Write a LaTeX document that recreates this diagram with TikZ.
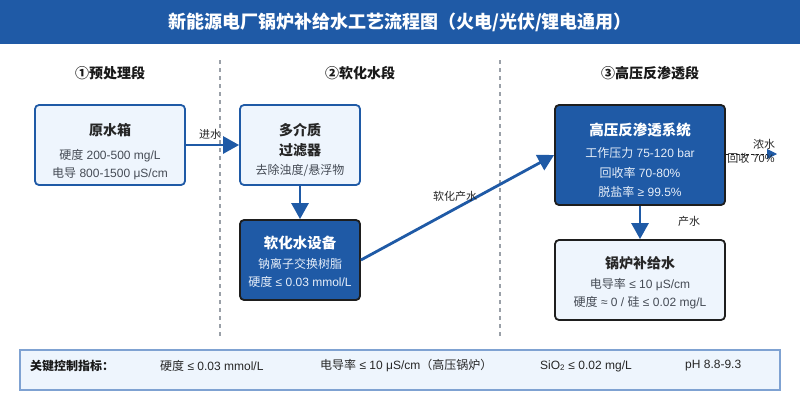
\documentclass[tikz,border=0pt]{standalone}
\usepackage{fontspec}
\setmainfont{Liberation Sans}
\newfontfamily\cjk{Noto Sans CJK SC}
\usetikzlibrary{arrows.meta}
\definecolor{mainblue}{HTML}{1F5AA6}
\definecolor{lightfill}{HTML}{EEF5FD}
\definecolor{darkline}{HTML}{1E1E1E}
\definecolor{sepgrey}{HTML}{9AA0A8}
\definecolor{bodygrey}{HTML}{454B55}
\definecolor{panelline}{HTML}{7FA2D2}
\definecolor{paletext}{HTML}{E6EEF9}
\tikzset{
  x=1pt, y=-1pt,
  lbox/.style={draw=mainblue, line width=1.8pt, fill=lightfill, rounded corners=4pt},
  lboxd/.style={draw=darkline, line width=1.8pt, fill=lightfill, rounded corners=4pt},
  dbox/.style={draw=darkline, line width=1.8pt, fill=mainblue, rounded corners=4pt},
  btitle/.style={font=\fontsize{14}{16}\selectfont\bfseries, text=black!85},
  dtitle/.style={font=\fontsize{14.5}{16}\selectfont\bfseries, text=white},
  btext/.style={font=\fontsize{12}{14}\selectfont, text=bodygrey},
  dtext/.style={font=\fontsize{12}{14}\selectfont, text=paletext},
  stage/.style={font=\fontsize{14}{16}\selectfont\bfseries, text=black!90},
  flow/.style={draw=mainblue, line width=2.8pt, -{Triangle[length=16pt,width=17pt]}},
  lbl/.style={font=\fontsize{11}{13}\selectfont, text=black!85},
  sep/.style={draw=sepgrey, line width=1.5pt, dash pattern=on 4pt off 4pt},
  itm/.style={font=\fontsize{12}{14}\selectfont, text=black!85, anchor=west, inner sep=0pt},
}
\begin{document}
\begin{tikzpicture}
\useasboundingbox (0,0) rectangle (800,400);
\fill[white] (0,0) rectangle (800,400);
% title bar
\fill[mainblue] (0,0) rectangle (800,44);
\node[text=white, font=\fontsize{18}{20}\selectfont\bfseries] (title) at (400,22) {\cjk 新能源电厂锅炉补给水工艺流程图（火电/光伏/锂电通用）};
% stage labels
\node[stage] (s1) at (110,73) {\cjk ①预处理段};
\node[stage] (s2) at (360,73) {\cjk ②软化水段};
\node[stage] (s3) at (650,73) {\cjk ③高压反渗透段};
% separators
\coordinate (sepAt) at (220,60); \coordinate (sepAb) at (220,336);
\coordinate (sepBt) at (500,60); \coordinate (sepBb) at (500,336);
\draw[sep] (sepAt) -- (sepAb);
\draw[sep] (sepBt) -- (sepBb);
% boxes
\node[lbox, minimum width=150pt, minimum height=80pt] (raw) at (110,145) {};
\node[btitle] (rawT) at (110,130) {\cjk 原水箱};
\node[btext] (rawA) at (110,156) {{\cjk 硬度} 200-500 mg/L};
\node[btext] (rawB) at (110,174) {{\cjk 电导} 800-1500 μS/cm};

\node[lbox, minimum width=120pt, minimum height=80pt] (filt) at (300,145) {};
\node[btitle] (filtT1) at (300,130) {\cjk 多介质};
\node[btitle] (filtT2) at (300,150) {\cjk 过滤器};
\node[btext] (filtA) at (300,170) {\cjk 去除浊度/悬浮物};

\node[dbox, minimum width=120pt, minimum height=80pt] (soft) at (300,260) {};
\node[dtitle] (softT) at (300,243) {\cjk 软化水设备};
\node[dtext] (softA) at (300,264) {\cjk 钠离子交换树脂};
\node[dtext] (softB) at (300,282) {{\cjk 硬度} ≤ 0.03 mmol/L};

\node[dbox, minimum width=170pt, minimum height=100pt] (ro) at (640,155) {};
\node[dtitle] (roT) at (640,130) {\cjk 高压反渗透系统};
\node[dtext] (roA) at (640,153) {{\cjk 工作压力} 75-120 bar};
\node[dtext] (roB) at (640,173) {{\cjk 回收率} 70-80\%};
\node[dtext] (roC) at (640,192) {{\cjk 脱盐率} ≥ 99.5\%};

\node[lboxd, minimum width=170pt, minimum height=80pt] (boil) at (640,280) {};
\node[btitle] (boilT) at (640,263) {\cjk 锅炉补给水};
\node[btext] (boilA) at (640,285) {{\cjk 电导率} ≤ 10 μS/cm};
\node[btext] (boilB) at (640,303) {{\cjk 硬度} ≈ 0 / {\cjk 硅} ≤ 0.02 mg/L};

% connectors
\draw[flow] (raw.east) -- (filt.west);
\node[lbl] (l1) at (210,134) {\cjk 进水};
\draw[flow] (filt.south) -- (soft.north);
\draw[flow] (soft.east) -- (ro.west);
\node[lbl] (l2) at (455,196) {\cjk 软化产水};
\draw[flow] (ro.south) -- (boil.north);
\node[lbl] (l3) at (689,221) {\cjk 产水};
\coordinate (outlet) at (777,154);
\draw[draw=darkline, line width=1pt, dash pattern=on 3pt off 2pt, -{Triangle[length=10pt,width=10pt,color=mainblue,fill=mainblue]}] (ro.east |- outlet) -- (outlet);
\node[lbl] (l4) at (764,144) {\cjk 浓水};
\node[lbl] (l5) at (751,158) {{\cjk 回收} 70\%};

% bottom panel
\node[draw=panelline, line width=1.5pt, fill=lightfill, minimum width=760pt, minimum height=40pt] (panel) at (400,370) {};
\node[font=\fontsize{12}{14}\selectfont\bfseries, text=black!90, anchor=west, inner sep=0pt] (pT) at (30,366) {\cjk 关键控制指标：};
\node[itm] (p1) at (160,366) {{\cjk 硬度} ≤ 0.03 mmol/L};
\node[itm] (p2) at (320,366) {{\cjk 电导率} ≤ 10 μS/cm{\cjk （高压锅炉）}};
\node[itm] (p3) at (540,366) {SiO\textsubscript{2} ≤ 0.02 mg/L};
\node[itm] (p4) at (685,366) {pH 8.8-9.3};
\end{tikzpicture}
\end{document}
